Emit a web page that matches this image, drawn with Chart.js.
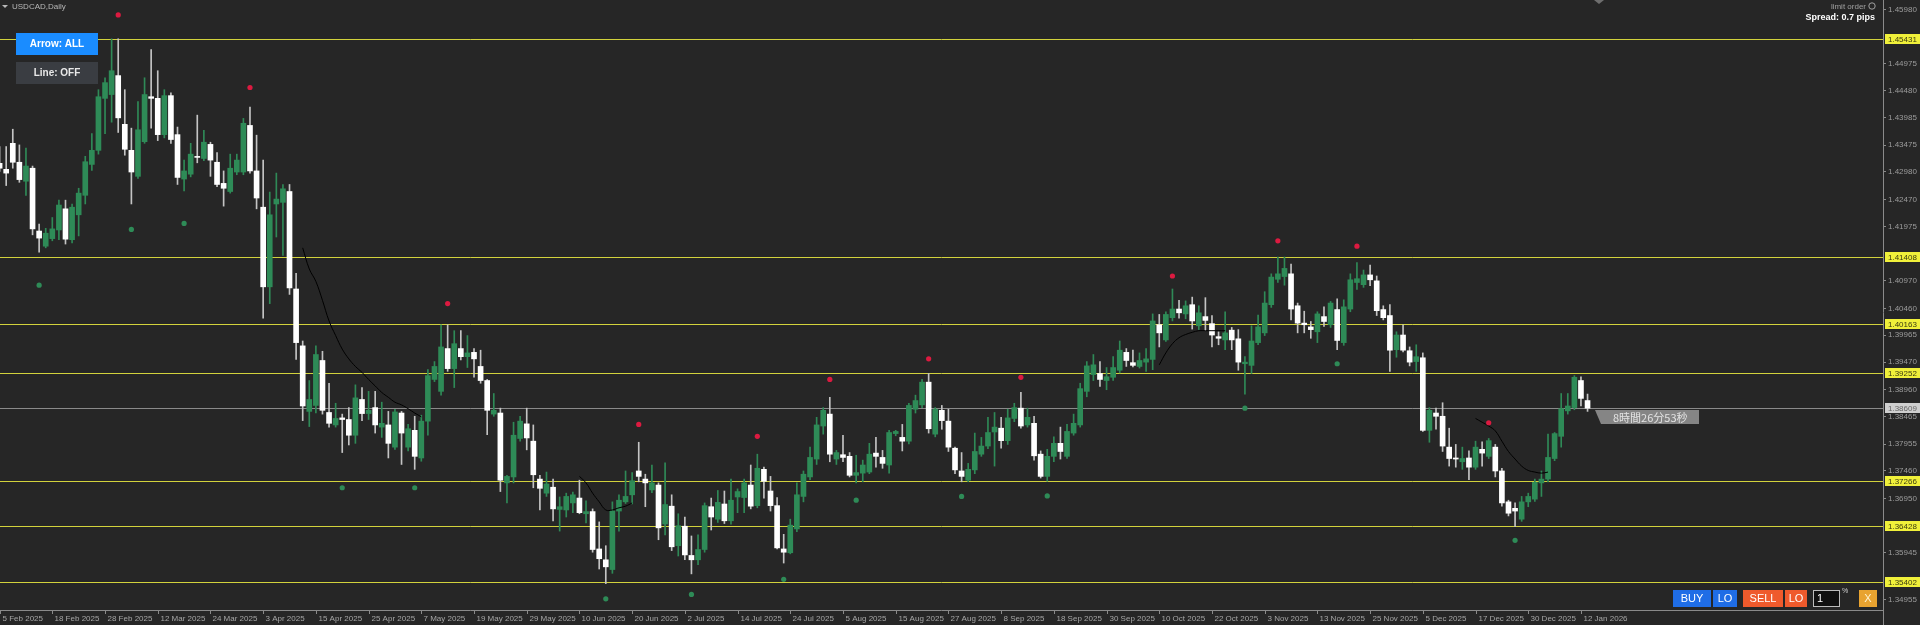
<!DOCTYPE html>
<html>
<head>
<meta charset="utf-8">
<script src="https://cdn.jsdelivr.net/npm/chart.js@4.4.1/dist/chart.umd.min.js"></script>
<style>
  html, body { margin: 0; padding: 0; background: #262626; overflow: hidden; }
  #wrap { width: 1920px; height: 625px; position: relative; }
</style>
</head>
<body>
<div id="wrap"><canvas id="myChart"></canvas></div>
<script>
// USDCAD daily, bar 0 = first visible bar (early Feb 2025), bar 241 = 13 Jan 2026
var open = [
  1.4313,1.4302,1.4350,1.4315,1.4280,1.4304,1.4188,1.4160,1.4174,1.4190,
  1.4229,1.4172,1.4218,1.4254,1.4311,1.4337,1.4433,1.4440,1.4475,1.4385,
  1.4337,1.4289,1.4353,1.4436,1.4433,1.4366,1.4438,1.4366,1.4284,1.4293,
  1.4325,1.4322,1.4348,1.4315,1.4276,1.4261,1.4297,1.4297,1.4383,1.4299,
  1.4232,1.4085,1.4238,1.4241,1.4261,1.4081,1.3976,1.3855,1.3866,1.3949,
  1.3853,1.3830,1.3843,1.3840,1.3811,1.3877,1.3851,1.3862,1.3826,1.3830,
  1.3789,1.3852,1.3789,1.3820,1.3769,1.3837,1.3914,1.3892,1.3971,1.3934,
  1.3971,1.3956,1.3964,1.3938,1.3912,1.3850,1.3852,1.3723,1.3734,1.3805,
  1.3832,1.3800,1.3730,1.3704,1.3715,1.3674,1.3673,1.3686,1.3695,1.3666,
  1.3670,1.3601,1.3581,1.3563,1.3671,1.3688,1.3701,1.3745,1.3730,1.3710,
  1.3719,1.3647,1.3680,1.3607,1.3643,1.3589,1.3581,1.3600,1.3679,1.3656,
  1.3684,1.3653,1.3697,1.3696,1.3719,1.3681,1.3748,1.3708,1.3681,1.3601,
  1.3594,1.3638,1.3698,1.3734,1.3767,1.3828,1.3850,1.3767,1.3775,1.3772,
  1.3737,1.3741,1.3743,1.3778,1.3770,1.3756,1.3814,1.3807,1.3800,1.3859,
  1.3867,1.3909,1.3813,1.3857,1.3837,1.3787,1.3745,1.3728,1.3747,1.3776,
  1.3791,1.3817,1.3824,1.3801,1.3842,1.3861,1.3830,1.3833,1.3776,1.3735,
  1.3772,1.3796,1.3772,1.3815,1.3830,1.3892,1.3923,1.3925,1.3912,1.3918,
  1.3931,1.3964,1.3945,1.3938,1.3946,1.3951,1.4015,1.3987,1.4028,1.4044,
  1.4035,1.4052,1.4013,1.4030,1.4017,1.3993,1.3987,1.4005,1.3989,1.3943,
  1.3940,1.3982,1.4000,1.4052,1.4099,1.4104,1.4109,1.4050,1.4018,1.4011,
  1.4002,1.4030,1.4015,1.4043,1.3982,1.4044,1.4093,1.4089,1.4107,1.4096,
  1.4043,1.4032,1.3969,1.3996,1.3967,1.3947,1.3954,1.3820,1.3852,1.3846,
  1.3789,1.3769,1.3762,1.3769,1.3752,1.3785,1.3772,1.3789,1.3745,1.3688,
  1.3676,1.3656,1.3688,1.3693,1.3723,1.3730,1.3768,1.3809,1.3856,1.3862,
  1.3912,1.3875
];
var high = [
  1.4344,1.4344,1.4376,1.4347,1.4341,1.4308,1.4201,1.4193,1.4213,1.4245,
  1.4245,1.4238,1.4267,1.4326,1.4368,1.4449,1.4471,1.4543,1.4543,1.4449,
  1.4378,1.4427,1.4471,1.4523,1.4484,1.4449,1.4443,1.4380,1.4319,1.4350,
  1.4402,1.4374,1.4352,1.4333,1.4299,1.4330,1.4330,1.4396,1.4417,1.4365,
  1.4319,1.4260,1.4295,1.4274,1.4274,1.4110,1.3985,1.3912,1.3976,1.3966,
  1.3907,1.3870,1.3850,1.3862,1.3904,1.3899,1.3892,1.3892,1.3872,1.3855,
  1.3859,1.3855,1.3831,1.3846,1.3848,1.3932,1.3947,1.4015,1.4015,1.4004,
  1.4004,1.3995,1.3971,1.3968,1.3914,1.3888,1.3861,1.3737,1.3835,1.3846,
  1.3861,1.3830,1.3737,1.3743,1.3730,1.3697,1.3704,1.3706,1.3728,1.3690,
  1.3675,1.3651,1.3607,1.3688,1.3701,1.3745,1.3742,1.3798,1.3739,1.3756,
  1.3723,1.3760,1.3701,1.3666,1.3660,1.3625,1.3627,1.3686,1.3695,1.3709,
  1.3708,1.3730,1.3712,1.3730,1.3756,1.3776,1.3752,1.3735,1.3696,1.3628,
  1.3656,1.3723,1.3745,1.3789,1.3844,1.3862,1.3881,1.3783,1.3811,1.3779,
  1.3774,1.3765,1.3796,1.3807,1.3783,1.3820,1.3820,1.3831,1.3870,1.3885,
  1.3914,1.3925,1.3862,1.3866,1.3859,1.3789,1.3779,1.3759,1.3815,1.3807,
  1.3844,1.3853,1.3844,1.3859,1.3870,1.3890,1.3861,1.3846,1.3782,1.3785,
  1.3808,1.3826,1.3831,1.3850,1.3907,1.3947,1.3960,1.3947,1.3936,1.3956,
  1.3985,1.3971,1.3968,1.3963,1.3971,1.4035,1.4034,1.4039,1.4081,1.4060,
  1.4059,1.4066,1.4050,1.4065,1.4032,1.4002,1.4039,1.4010,1.4006,1.3956,
  1.4013,1.4033,1.4076,1.4109,1.4140,1.4140,1.4127,1.4055,1.4040,1.4021,
  1.4039,1.4048,1.4058,1.4063,1.4061,1.4109,1.4130,1.4116,1.4125,1.4105,
  1.4050,1.4052,1.4002,1.4015,1.3974,1.3978,1.3963,1.3862,1.3861,1.3871,
  1.3824,1.3794,1.3789,1.3782,1.3800,1.3799,1.3805,1.3794,1.3750,1.3691,
  1.3686,1.3698,1.3704,1.3730,1.3745,1.3813,1.3816,1.3888,1.3888,1.3921,
  1.3919,1.3887
];
var low = [
  1.4298,1.4272,1.4304,1.4278,1.4254,1.4181,1.4149,1.4157,1.4170,1.4172,
  1.4164,1.4166,1.4179,1.4238,1.4300,1.4330,1.4368,1.4389,1.4370,1.4328,
  1.4238,1.4285,1.4350,1.4378,1.4355,1.4360,1.4350,1.4274,1.4262,1.4288,
  1.4314,1.4318,1.4289,1.4270,1.4234,1.4258,1.4292,1.4292,1.4295,1.4229,
  1.4027,1.4054,1.4177,1.4143,1.4071,1.3951,1.3838,1.3827,1.3852,1.3850,
  1.3826,1.3826,1.3779,1.3793,1.3796,1.3838,1.3840,1.3815,1.3807,1.3769,
  1.3785,1.3757,1.3782,1.3748,1.3763,1.3811,1.3910,1.3885,1.3929,1.3899,
  1.3950,1.3936,1.3918,1.3907,1.3812,1.3846,1.3707,1.3686,1.3723,1.3800,
  1.3784,1.3714,1.3673,1.3698,1.3653,1.3634,1.3660,1.3668,1.3666,1.3649,
  1.3595,1.3564,1.3537,1.3556,1.3634,1.3685,1.3684,1.3725,1.3679,1.3705,
  1.3618,1.3627,1.3598,1.3588,1.3581,1.3555,1.3572,1.3595,1.3636,1.3650,
  1.3648,1.3647,1.3668,1.3668,1.3675,1.3677,1.3695,1.3671,1.3601,1.3575,
  1.3592,1.3633,1.3688,1.3729,1.3757,1.3813,1.3762,1.3757,1.3762,1.3734,
  1.3723,1.3725,1.3740,1.3752,1.3750,1.3741,1.3810,1.3782,1.3795,1.3852,
  1.3862,1.3815,1.3808,1.3822,1.3781,1.3740,1.3725,1.3725,1.3740,1.3772,
  1.3786,1.3754,1.3787,1.3794,1.3836,1.3824,1.3826,1.3765,1.3732,1.3726,
  1.3762,1.3767,1.3768,1.3811,1.3826,1.3882,1.3912,1.3901,1.3895,1.3912,
  1.3926,1.3938,1.3937,1.3935,1.3929,1.3932,1.3974,1.3984,1.4022,1.4027,
  1.4026,1.4007,1.4006,1.4004,1.3974,1.3978,1.3969,1.3969,1.3931,1.3887,
  1.3925,1.3978,1.3995,1.4047,1.4093,1.4088,1.4024,1.4000,1.4000,1.3990,
  1.3982,1.4012,1.4010,1.3969,1.3977,1.4039,1.4080,1.4084,1.4087,1.4032,
  1.4024,1.3929,1.3955,1.3965,1.3939,1.3929,1.3818,1.3798,1.3822,1.3781,
  1.3754,1.3752,1.3748,1.3729,1.3748,1.3754,1.3768,1.3734,1.3680,1.3662,
  1.3642,1.3652,1.3679,1.3689,1.3698,1.3725,1.3764,1.3789,1.3850,1.3858,
  1.3865,1.3855
];
var close = [
  1.4304,1.4295,1.4315,1.4283,1.4308,1.4192,1.4175,1.4184,1.4192,1.4236,
  1.4173,1.4232,1.4258,1.4316,1.4337,1.4436,1.4462,1.4484,1.4397,1.4339,
  1.4297,1.4375,1.4440,1.4433,1.4366,1.4438,1.4357,1.4287,1.4299,1.4330,
  1.4324,1.4352,1.4319,1.4274,1.4267,1.4304,1.4319,1.4387,1.4299,1.4249,
  1.4085,1.4218,1.4247,1.4266,1.4083,1.3982,1.3865,1.3877,1.3960,1.3857,
  1.3833,1.3842,1.3840,1.3811,1.3880,1.3851,1.3857,1.3830,1.3833,1.3796,
  1.3854,1.3815,1.3823,1.3772,1.3837,1.3921,1.3938,1.3974,1.3934,1.3980,
  1.3956,1.3963,1.3952,1.3912,1.3857,1.3857,1.3728,1.3735,1.3811,1.3837,
  1.3806,1.3738,1.3713,1.3721,1.3675,1.3679,1.3698,1.3701,1.3668,1.3670,
  1.3600,1.3583,1.3568,1.3671,1.3691,1.3698,1.3727,1.3735,1.3723,1.3723,
  1.3640,1.3683,1.3605,1.3644,1.3590,1.3581,1.3600,1.3681,1.3660,1.3687,
  1.3653,1.3691,1.3707,1.3723,1.3680,1.3750,1.3726,1.3681,1.3603,1.3595,
  1.3645,1.3701,1.3739,1.3770,1.3830,1.3857,1.3776,1.3779,1.3770,1.3737,
  1.3742,1.3756,1.3776,1.3772,1.3759,1.3816,1.3818,1.3800,1.3866,1.3875,
  1.3909,1.3823,1.3859,1.3838,1.3789,1.3747,1.3735,1.3748,1.3781,1.3791,
  1.3816,1.3826,1.3801,1.3843,1.3862,1.3828,1.3844,1.3773,1.3735,1.3772,
  1.3796,1.3781,1.3818,1.3833,1.3897,1.3939,1.3941,1.3914,1.3919,1.3936,
  1.3968,1.3949,1.3940,1.3949,1.3952,1.4022,1.4000,1.4034,1.4044,1.4037,
  1.4050,1.4022,1.4037,1.4023,1.3996,1.3990,1.4000,1.3987,1.3946,1.3946,
  1.3985,1.4011,1.4055,1.4103,1.4109,1.4119,1.4044,1.4018,1.4015,1.4006,
  1.4035,1.4021,1.4055,1.3986,1.4048,1.4098,1.4100,1.4107,1.4098,1.4041,
  1.4028,1.3968,1.3996,1.3968,1.3946,1.3956,1.3820,1.3857,1.3846,1.3791,
  1.3768,1.3767,1.3768,1.3752,1.3789,1.3778,1.3801,1.3745,1.3686,1.3667,
  1.3671,1.3688,1.3698,1.3724,1.3730,1.3770,1.3814,1.3860,1.3865,1.3918,
  1.3879,1.3861
];

// arrow indicator dots
var sellIdx = [18, 38, 68, 97, 115, 126, 141, 155, 178, 194, 206, 226];
var sellPrice = [1.4587, 1.4453, 1.4054, 1.3831, 1.3809, 1.3914, 1.3952, 1.3918, 1.4105, 1.4170, 1.4160, 1.3834];
var buyIdx = [6, 20, 28, 52, 63, 92, 105, 119, 130, 146, 159, 189, 203, 230];
var buyPrice = [1.4088, 1.4191, 1.4202, 1.3714, 1.3714, 1.3509, 1.3517, 1.3545, 1.3691, 1.3698, 1.3699, 1.3861, 1.3943, 1.3617];

// black curve pieces (start bar + values)
var curveStart = [46, 88, 176, 224];
var curveVals = [
  [1.4157,1.4118,1.4095,1.4060,1.4022,1.3995,1.3970,1.3952,1.3938,1.3927,1.3914,1.3902,1.3890,1.3881,1.3872,1.3867,1.3860,1.3852,1.3845],
  [1.3735,1.3723,1.3704,1.3688,1.3673,1.3673,1.3677,1.3680,1.3686],
  [1.3941,1.3963,1.3980,1.3991,1.3997,1.4001,1.4004,1.4004,1.4004,1.4004,1.4004],
  [1.3842,1.3835,1.3828,1.3819,1.3800,1.3781,1.3767,1.3754,1.3746,1.3743,1.3741,1.3743]
];

var levels = [1.45431, 1.41408, 1.40163, 1.39252, 1.37266, 1.36428, 1.35402];
var bidPrice = 1.38609;
var priceTicks = [1.45980, 1.44975, 1.44480, 1.43985, 1.43475, 1.42980, 1.42470, 1.41975,
  1.40970, 1.40460, 1.39965, 1.39470, 1.38960, 1.38465, 1.37955, 1.37460, 1.36950, 1.35945, 1.34955];
var tickText = ["5 Feb 2025","18 Feb 2025","28 Feb 2025","12 Mar 2025","24 Mar 2025","3 Apr 2025",
  "15 Apr 2025","25 Apr 2025","7 May 2025","19 May 2025","29 May 2025","10 Jun 2025","20 Jun 2025",
  "2 Jul 2025","14 Jul 2025","24 Jul 2025","5 Aug 2025","15 Aug 2025","27 Aug 2025","8 Sep 2025",
  "18 Sep 2025","30 Sep 2025","10 Oct 2025","22 Oct 2025","3 Nov 2025","13 Nov 2025","25 Nov 2025",
  "5 Dec 2025","17 Dec 2025","30 Dec 2025","12 Jan 2026"];
var tickIdx = tickText.map(function (t, k) { return k * 8; });

var bull = "#2e8b57", bear = "#ffffff";
var up = open.map(function (o, i) { return close[i] >= o; });

function line(c, x1, y1, x2, y2) {
  c.beginPath(); c.moveTo(x1, y1); c.lineTo(x2, y2); c.stroke();
}
function box(c, x, y, w, h, fill, txt, txtColor, font) {
  c.fillStyle = fill; c.fillRect(x, y, w, h);
  c.fillStyle = txtColor; c.font = font;
  c.textAlign = "center"; c.textBaseline = "middle";
  c.fillText(txt, x + w / 2, y + h / 2 + 0.5);
}

var chrome = {
  id: "chrome",
  beforeDraw: function (chart) {
    var c = chart.ctx;
    c.save();
    c.fillStyle = "#262626";
    c.fillRect(0, 0, chart.width, chart.height);
    c.restore();
  },
  beforeDatasetsDraw: function (chart) {
    var c = chart.ctx, a = chart.chartArea, ys = chart.scales.y;
    c.save();
    c.lineWidth = 1;
    c.strokeStyle = "#8a8a8a";
    var yb = Math.round(ys.getPixelForValue(bidPrice)) + 0.5;
    line(c, a.left, yb, a.right, yb);
    c.strokeStyle = "#d2d23c";
    levels.forEach(function (p) {
      var y = Math.round(ys.getPixelForValue(p)) + 0.5;
      line(c, a.left, y, a.right, y);
    });
    c.restore();
  },
  afterDraw: function (chart) {
    var c = chart.ctx, a = chart.chartArea, ys = chart.scales.y, xs = chart.scales.x;
    c.save();
    c.lineWidth = 1;
    // axes
    c.strokeStyle = "#8a8a8a";
    line(c, a.right + 0.5, 0, a.right + 0.5, 625);
    line(c, 0, a.bottom + 0.5, a.right, a.bottom + 0.5);

    // price labels
    c.font = '8px "Liberation Sans"';
    c.textAlign = "left"; c.textBaseline = "middle";
    priceTicks.forEach(function (p) {
      var y = Math.min(ys.getPixelForValue(p), 599);
      c.strokeStyle = "#8a8a8a";
      line(c, a.right, Math.round(y) + 0.5, a.right + 3, Math.round(y) + 0.5);
      c.fillStyle = "#9c9c9c";
      c.fillText(p.toFixed(5), a.right + 5, y + 0.5);
    });
    levels.forEach(function (p) {
      var y = Math.round(ys.getPixelForValue(p));
      c.fillStyle = "#f0f03a";
      c.fillRect(a.right + 2, y - 5, 35, 10);
      c.fillStyle = "#3a3a10";
      c.fillText(p.toFixed(5), a.right + 5, y + 0.5);
    });
    var yb = Math.round(ys.getPixelForValue(bidPrice));
    c.fillStyle = "#cfcfcf";
    c.fillRect(a.right + 2, yb - 5, 35, 10);
    c.fillStyle = "#666";
    c.fillText(bidPrice.toFixed(5), a.right + 5, yb + 0.5);

    // date labels
    c.fillStyle = "#a6a6a6";
    tickIdx.forEach(function (i, k) {
      var x = Math.round(xs.getPixelForValue(i)) + 0.5;
      c.strokeStyle = "#8a8a8a";
      line(c, x, a.bottom, x, a.bottom + 4);
      c.fillText(tickText[k], Math.max(x + 2, 0), 618.5);
    });

    // title
    c.fillStyle = "#b8b8b8";
    c.beginPath(); c.moveTo(2, 5); c.lineTo(8, 5); c.lineTo(5, 8); c.closePath(); c.fill();
    c.font = '8px "Liberation Sans"';
    c.fillText("USDCAD,Daily", 12, 6.5);

    // toggle buttons
    box(c, 16, 33, 82, 22, "#1a8cff", "Arrow: ALL", "#ffffff", 'bold 10px "Liberation Sans"');
    box(c, 16, 62, 82, 22, "#3a3d42", "Line: OFF", "#e8e8e8", 'bold 10px "Liberation Sans"');

    // top right info
    c.textAlign = "right";
    c.fillStyle = "#a0a0a0";
    c.font = '8px "Liberation Sans"';
    c.fillText("limit order", 1866, 6.5);
    c.strokeStyle = "#a0a0a0";
    c.beginPath(); c.arc(1872, 6, 3.2, 0, Math.PI * 2); c.stroke();
    c.fillStyle = "#ffffff";
    c.font = 'bold 9px "Liberation Sans"';
    c.fillText("Spread: 0.7 pips", 1875, 18);
    c.fillStyle = "#6e6e6e";
    c.beginPath(); c.moveTo(1594, 0); c.lineTo(1604, 0); c.lineTo(1599, 4); c.closePath(); c.fill();

    // countdown tag
    var xl = Math.round(xs.getPixelForValue(241)) + 7;
    c.fillStyle = "#858585";
    c.beginPath();
    c.moveTo(xl, yb + 2); c.lineTo(xl + 104, yb + 2); c.lineTo(xl + 104, yb + 16);
    c.lineTo(xl + 6, yb + 16); c.closePath(); c.fill();
    c.fillStyle = "#e4e4e4";
    c.font = '11px "Noto Sans CJK JP"';
    c.textAlign = "left"; c.textBaseline = "middle";
    c.fillText("8時間26分53秒", xl + 18, yb + 9.5);

    // trade panel
    var f = '11px "Liberation Sans"';
    box(c, 1673, 590, 38, 17, "#1f6de6", "BUY", "#ffffff", f);
    box(c, 1713, 590, 24, 17, "#1f6de6", "LO", "#ffffff", f);
    box(c, 1743, 590, 40, 17, "#ef5a2c", "SELL", "#ffffff", f);
    box(c, 1785, 590, 22, 17, "#ef5a2c", "LO", "#ffffff", f);
    c.fillStyle = "#111"; c.fillRect(1813, 590, 27, 17);
    c.strokeStyle = "#bdbdbd"; c.strokeRect(1813.5, 590.5, 26, 16);
    c.fillStyle = "#ffffff"; c.textAlign = "left"; c.font = f;
    c.fillText("1", 1817, 599);
    c.font = '7px "Liberation Sans"'; c.fillStyle = "#d0d0d0";
    c.fillText("%", 1842, 591);
    box(c, 1859, 590, 18, 17, "#e8a330", "X", "#fff3d0", f);
    c.restore();
  }
};

var idx = open.map(function (o, i) { return i; });

var datasets = [
  {
    label: "wick",
    order: 4,
    grouped: false,
    barThickness: 1,
    data: idx.map(function (i) { return { x: i, y: [low[i], high[i]] }; }),
    backgroundColor: idx.map(function (i) { return up[i] ? "#2f8a57" : "#c4c4c4"; })
  },
  {
    label: "body",
    order: 3,
    grouped: false,
    barThickness: 5,
    minBarLength: 1,
    data: idx.map(function (i) { return { x: i, y: [open[i], close[i]] }; }),
    backgroundColor: idx.map(function (i) { return up[i] ? bull : bear; })
  }
];

curveStart.forEach(function (s, k) {
  datasets.push({
    type: "line",
    order: 2,
    data: curveVals[k].map(function (v, j) { return { x: s + j, y: v }; }),
    borderColor: "#000000",
    borderWidth: 1,
    pointRadius: 0,
    tension: 0.4
  });
});

datasets.push({
  type: "line", order: 1, showLine: false,
  data: sellIdx.map(function (i, k) { return { x: i, y: sellPrice[k] }; }),
  pointRadius: 2.6, pointBorderWidth: 0, pointBackgroundColor: "#dc1a40"
});
datasets.push({
  type: "line", order: 1, showLine: false,
  data: buyIdx.map(function (i, k) { return { x: i, y: buyPrice[k] }; }),
  pointRadius: 2.6, pointBorderWidth: 0, pointBackgroundColor: "#2e8b57"
});

new Chart("myChart", {
  type: "bar",
  data: { datasets: datasets },
  options: {
    responsive: true,
    maintainAspectRatio: false,
    animation: false,
    devicePixelRatio: 1,
    layout: { padding: 0, autoPadding: false },
    plugins: { legend: { display: false }, tooltip: { enabled: false } },
    scales: {
      x: {
        type: "linear", min: 0.06, max: 285.84, offset: false,
        grid: { display: false }, border: { display: false }, ticks: { display: false },
        afterFit: function (s) { s.height = 15; }
      },
      y: {
        position: "right", min: 1.34883, max: 1.46146,
        grid: { display: false }, border: { display: false }, ticks: { display: false },
        afterFit: function (s) { s.width = 37; }
      }
    }
  },
  plugins: [chrome]
});
</script>
</body>
</html>
